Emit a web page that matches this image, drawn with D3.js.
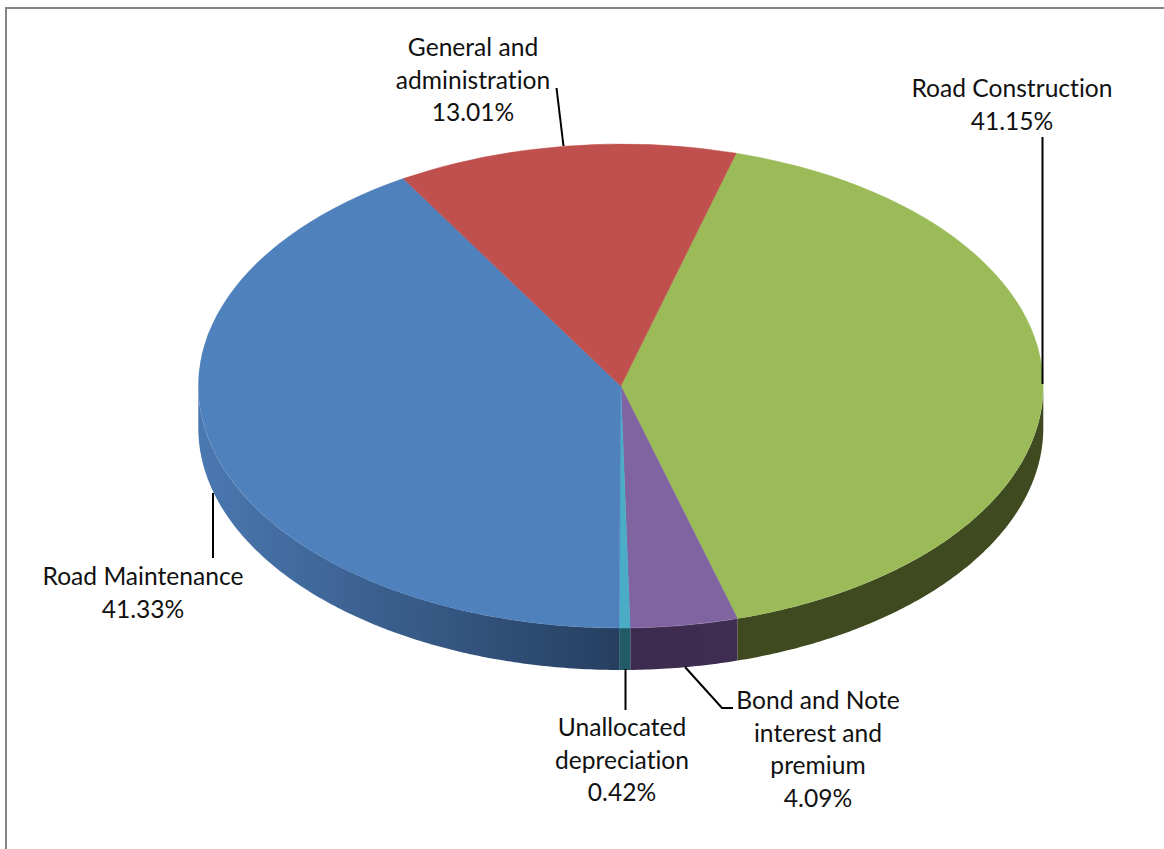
<!DOCTYPE html>
<html>
<head>
<meta charset="utf-8">
<title>Expenses pie</title>
<script src="https://cdn.jsdelivr.net/npm/d3@7"></script>
<style>
  html, body { margin: 0; padding: 0; background: #fff; }
  svg { display: block; }
  text { font-family: Lato, "Open Sans", sans-serif; font-size: 24.6px; fill: #111; text-anchor: middle; font-variant-ligatures: none; }
</style>
</head>
<body>
<svg></svg>
<script>
const categories = ["Road Construction", "Bond and Note interest and premium", "Unallocated depreciation", "Road Maintenance", "General and administration"];
const shares = [41.15, 4.09, 0.42, 41.33, 13.01];
const labelLines = [["Road Construction"], ["Bond and Note", "interest and", "premium"], ["Unallocated", "depreciation"], ["Road Maintenance"], ["General and", "administration"]];

const colors = ["#9BBB59", "#8064A2", "#4BACC6", "#4F81BD", "#C0504D"];
const sideColors = [["#3F4A20", "#3F4A20"], ["#33263F", "#3F2D52"], ["#225A66", "#225A66"], ["#4A78B0", "#263F60"], ["#7A302E", "#7A302E"]];

const width = 1164, height = 849;
const cx = 620.8, cy = 386, rx = 422.5, ry = 242, depth = 42;
const startAngle = 15.85 * Math.PI / 180;

// where each label sits: centre x, first baseline
const labelPos = [
  { x: 1012, y: 97 },
  { x: 818, y: 709 },
  { x: 622, y: 736 },
  { x: 143, y: 585 },
  { x: 473, y: 56 }
];
// leader lines, same order as categories
const leaders = [
  [[1042.5, 137], [1042.5, 384]],
  [[685, 667], [722, 708], [733, 708]],
  [[625.5, 669], [625.5, 710]],
  [[213, 493], [213, 558]],
  [[556.5, 88], [563.5, 146]]
];

const svg = d3.select("svg").attr("width", width).attr("height", height);

const pie = d3.pie().sort(null).value(d => d)
  .startAngle(startAngle).endAngle(startAngle + 2 * Math.PI);
const slices = pie(shares);

// the frame, only top and left are inside the crop
svg.append("path")
  .attr("d", `M6,${height}V8H${width}`)
  .attr("fill", "none")
  .attr("stroke", "#868686")
  .attr("stroke-width", 2);

const defs = svg.append("defs");
sideColors.forEach((c, i) => {
  const g = defs.append("linearGradient")
    .attr("id", "side" + i)
    .attr("gradientUnits", "userSpaceOnUse")
    .attr("x1", cx - rx).attr("x2", cx + rx * (i == 3 ? 0 : 0.28))
    .attr("y1", 0).attr("y2", 0);
  g.append("stop").attr("offset", 0).attr("stop-color", c[0]);
  g.append("stop").attr("offset", 1).attr("stop-color", c[1]);
});

const px = a => cx + rx * Math.sin(a);
const py = a => cy - ry * Math.cos(a);

// side wall, only the part of the rim facing us (90deg to 270deg)
function sidePath(d) {
  const lo = Math.max(d.startAngle, Math.PI / 2);
  const hi = Math.min(d.endAngle, 3 * Math.PI / 2);
  if (lo >= hi) return null;
  const steps = d3.range(lo, hi, 0.01).concat(hi);
  const line = d3.line();
  const top = steps.map(a => [px(a), py(a)]);
  const bottom = steps.slice().reverse().map(a => [px(a), py(a) + depth]);
  return line(top.concat(bottom)) + "Z";
}

svg.append("g").selectAll("path")
  .data(slices)
  .enter().append("path")
  .attr("d", sidePath)
  .attr("fill", (d, i) => `url(#side${i})`);

const arc = d3.arc().innerRadius(0).outerRadius(1);

svg.append("g")
  .attr("transform", `translate(${cx},${cy}) scale(${rx},${ry})`)
  .selectAll("path")
  .data(slices)
  .enter().append("path")
  .attr("d", arc)
  .attr("fill", (d, i) => colors[i])
  .attr("stroke", (d, i) => colors[i])
  .attr("stroke-width", 0.5)
  .attr("vector-effect", "non-scaling-stroke");

svg.append("g").selectAll("path")
  .data(leaders)
  .enter().append("path")
  .attr("d", d3.line())
  .attr("fill", "none")
  .attr("stroke", "#000")
  .attr("stroke-width", 2);

const pct = d3.format(".2f");
const lineStep = 32.6;

const label = svg.append("g").selectAll("text")
  .data(categories)
  .enter().append("text")
  .attr("x", (d, i) => labelPos[i].x)
  .attr("y", (d, i) => labelPos[i].y);

label.each(function (d, i) {
  const t = d3.select(this);
  labelLines[i].concat(pct(shares[i]) + "%").forEach((s, k) => {
    t.append("tspan")
      .attr("x", labelPos[i].x)
      .attr("dy", k ? lineStep : 0)
      .text(s);
  });
});
</script>
</body>
</html>
